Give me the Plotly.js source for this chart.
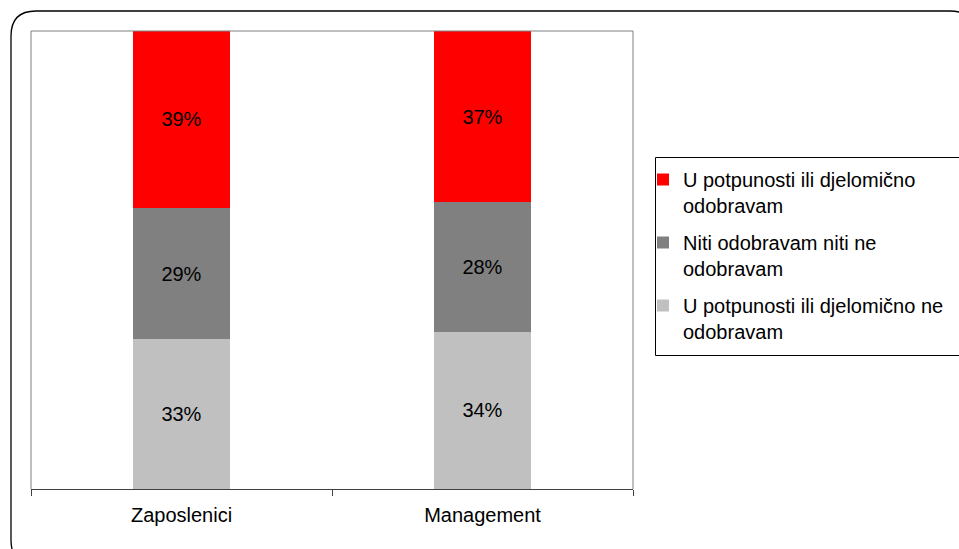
<!DOCTYPE html>
<html><head><meta charset="utf-8">
<script src="https://cdn.plot.ly/plotly-3.0.1.min.js"></script>
<style>body{margin:0;background:#fff}#c{width:959px;height:549px}</style>
</head><body><div id="c"></div>
<script>
const categories = ["Zaposlenici", "Management"];
const seriesNames = [
  "U potpunosti ili djelomično ne<br>odobravam",
  "Niti odobravam niti ne<br>odobravam",
  "U potpunosti ili djelomično<br>odobravam"
];
const notApprove = [33, 34];
const neutral = [29, 28];
const approve = [39, 37];
const colors = ["#C0C0C0", "#808080", "#FF0000"];

const W = 959, H = 549;
const L = 31, R = 633, T = 31, B = 489;
const px = x => (x - L) / (R - L);
const py = y => (B - y) / (B - T);
const FONT = "Liberation Sans, Arial, sans-serif";

const seriesVals = [notApprove, neutral, approve];
const traces = seriesVals.map((vals, i) => ({
  type: "bar",
  x: categories,
  y: vals,
  name: seriesNames[i],
  legendgroup: "g" + i,
  legendrank: 1000 - i,
  marker: {color: colors[i], line: {width: 0}},
  width: 0.32,
  text: vals.map(v => v + "%"),
  textposition: "inside",
  insidetextanchor: "middle",
  textangle: 0,
  textfont: {family: FONT, size: 20, color: "#000"},
  hoverinfo: "skip"
}));

// outer rounded frame (path in paper coords)
const r = 25, fl = 11, ft = 11, fr = 975, fb = 565;
const framePath =
  `M ${px(fl)} ${py(ft + r)} Q ${px(fl)} ${py(ft)} ${px(fl + r)} ${py(ft)} ` +
  `L ${px(fr - r)} ${py(ft)} Q ${px(fr)} ${py(ft)} ${px(fr)} ${py(ft + r)} ` +
  `L ${px(fr)} ${py(fb - r)} Q ${px(fr)} ${py(fb)} ${px(fr - r)} ${py(fb)} ` +
  `L ${px(fl + r)} ${py(fb)} Q ${px(fl)} ${py(fb)} ${px(fl)} ${py(fb - r)} Z`;

const layout = {
  width: W, height: H,
  margin: {l: L, r: W - R, t: T, b: H - B, pad: 0, autoexpand: false},
  paper_bgcolor: "#fff", plot_bgcolor: "#fff",
  barmode: "stack",
  barnorm: "percent",
  showlegend: true,
  font: {family: FONT, size: 20, color: "#000"},
  legend: {
    x: px(643), y: py(160), xanchor: "left", yanchor: "top",
    borderwidth: 0, bgcolor: "rgba(0,0,0,0)",
    traceorder: "grouped", tracegroupgap: 8,
    valign: "top",
    font: {family: FONT, size: 20, color: "#000"},
    itemwidth: 30
  },
  xaxis: {
    type: "category",
    showgrid: false,
    showline: true, linecolor: "#404040", linewidth: 1,
    ticks: "outside", tickson: "boundaries", ticklen: 6, tickcolor: "#404040",
    ticklabelstandoff: 8,
    tickfont: {family: FONT, size: 20, color: "#000"},
    fixedrange: true
  },
  yaxis: {
    range: [0, 100],
    showgrid: false, zeroline: false,
    showticklabels: false, ticks: "",
    showline: false,
    fixedrange: true
  },
  shapes: [
    {type: "path", xref: "paper", yref: "paper", path: framePath,
     line: {color: "#000", width: 1.3}, fillcolor: "rgba(0,0,0,0)", layer: "below"},
    {type: "path", xref: "paper", yref: "paper",
     path: `M 0 0 L 0 1 L 1 1 L 1 0`,
     line: {color: "#808080", width: 1}, fillcolor: "rgba(0,0,0,0)", layer: "above"},
    {type: "rect", xref: "paper", yref: "paper",
     x0: px(655.5), x1: px(968), y0: py(355.5), y1: py(157.5),
     line: {color: "#000", width: 1}, fillcolor: "rgba(0,0,0,0)", layer: "below"}
  ]
};

Plotly.newPlot("c", traces, layout, {displayModeBar: false, staticPlot: true});
</script>
</body></html>
